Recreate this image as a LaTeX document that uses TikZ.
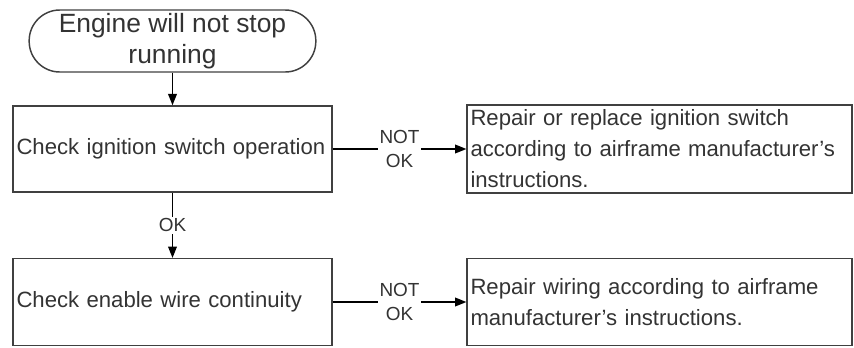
\documentclass[tikz,border=0pt]{standalone}
\usepackage{fontspec}
\setmainfont{Liberation Sans}
\usetikzlibrary{arrows.meta}
\begin{document}
\begin{tikzpicture}[x=.75pt,y=-.75pt,>={Triangle[length=8.5pt,width=6.5pt]},line width=1.1pt,
  every node/.style={text=black!80},
  box/.style={draw=black!75,rectangle,inner xsep=2.5pt,inner ysep=0pt,align=left,
    font=\fontsize{16.6}{23.25}\selectfont},
  cond/.style={fill=white,inner sep=1.5pt,align=center,font=\fontsize{14.2}{18.5}\selectfont}]
  \useasboundingbox (0,0) rectangle (854,347);
  % start terminal
  \node[draw=black!75,rounded corners=23pt,minimum width=215pt,minimum height=46.5pt,
    inner sep=0pt,align=center,font=\fontsize{19.8}{23.25}\selectfont] (start) at (172.5,41)
    {Engine will not stop\\running};
  % checks
  \node[box,text width=234pt,minimum height=64.5pt] (ign) at (172.5,149)
    {Check ignition switch operation};
  \node[box,text width=234pt,minimum height=65pt] (wire) at (172.5,302)
    {Check enable wire continuity};
  % repairs
  \node[box,text width=283.5pt,minimum height=66pt] (fixign) at (659.5,149)
    {Repair or replace ignition switch\\according to airframe manufacturer's\\instructions.};
  \node[box,text width=283.5pt,minimum height=65pt] (fixwire) at (659.5,302)
    {Repair wiring according to airframe\\manufacturer's instructions.};
  \draw[->] (start) -- (ign);
  \draw[->] (ign) -- node[cond] {NOT\\OK} (fixign);
  \draw[->] (ign) -- node[cond] {OK} (wire);
  \draw[->] (wire) -- node[cond] {NOT\\OK} (fixwire);
\end{tikzpicture}
\end{document}
